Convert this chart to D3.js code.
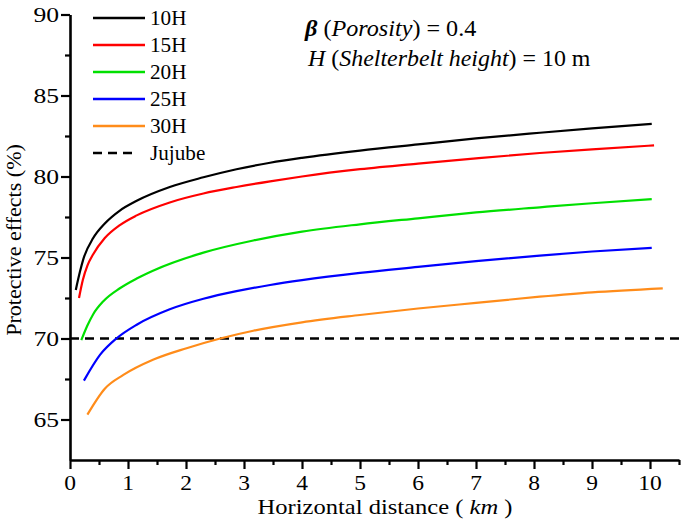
<!DOCTYPE html>
<html>
<head>
<meta charset="utf-8">
<style>
  body { margin: 0; background: #fff; }
  text { font-family: "Liberation Serif", "DejaVu Serif", serif; }
</style>
</head>
<body>
<div id="chart"></div>
<script src="https://cdn.jsdelivr.net/npm/d3@7"></script>
<script>
// values (distance in km, protective effect in %)
const x10H = [0.10, 0.17, 0.23, 0.40, 0.60, 0.86, 1.15, 1.72, 2.30, 2.87, 3.45, 4.0, 5.0, 6.0, 7.0, 8.1, 9.0, 10.03];
const y10H = [73.0, 74.1, 74.9, 76.2, 77.1, 77.9, 78.5, 79.35, 79.95, 80.45, 80.85, 81.15, 81.6, 81.98, 82.35, 82.7, 82.97, 83.25];
const x15H = [0.155, 0.22, 0.30, 0.40, 0.60, 0.86, 1.15, 1.72, 2.30, 2.87, 3.45, 4.0, 5.0, 6.0, 7.0, 8.1, 9.0, 10.07];
const y15H = [72.5, 73.6, 74.5, 75.2, 76.2, 77.0, 77.6, 78.4, 78.95, 79.35, 79.7, 80.0, 80.45, 80.8, 81.12, 81.45, 81.68, 81.92];
const x20H = [0.195, 0.30, 0.40, 0.575, 0.86, 1.15, 1.44, 2.30, 3.16, 4.0, 5.0, 6.0, 7.0, 8.1, 9.0, 10.03];
const y20H = [69.9, 70.8, 71.5, 72.3, 73.1, 73.7, 74.2, 75.3, 76.05, 76.6, 77.05, 77.42, 77.78, 78.1, 78.35, 78.6];
const x25H = [0.24, 0.52, 0.80, 1.15, 1.72, 2.30, 2.87, 3.45, 4.0, 5.0, 6.0, 7.0, 8.1, 9.0, 10.03];
const y25H = [67.4, 69.0, 70.0, 70.85, 71.8, 72.45, 72.92, 73.3, 73.6, 74.05, 74.42, 74.78, 75.12, 75.37, 75.6];
const x30H = [0.30, 0.60, 0.92, 1.44, 2.01, 2.59, 3.16, 4.0, 5.0, 6.0, 7.0, 8.1, 9.0, 10.22];
const y30H = [65.3, 66.9, 67.75, 68.7, 69.4, 70.0, 70.48, 71.0, 71.45, 71.85, 72.2, 72.58, 72.85, 73.1];
const jujube = 70;

const seriesNames = ["10H", "15H", "20H", "25H", "30H"];
const seriesX = [x10H, x15H, x20H, x25H, x30H];
const seriesY = [y10H, y15H, y20H, y25H, y30H];
const seriesColors = ["#000000", "#ff0000", "#00e000", "#0000ff", "#ff8c1a"];

const xMajor = [0, 1, 2, 3, 4, 5, 6, 7, 8, 9, 10];
const xMinor = [0.5, 1.5, 2.5, 3.5, 4.5, 5.5, 6.5, 7.5, 8.5, 9.5, 10.5];
const yMajor = [65, 70, 75, 80, 85, 90];
const yMinor = [67.5, 72.5, 77.5, 82.5, 87.5];

const width = 685, height = 524;
const svg = d3.select("#chart").append("svg")
    .attr("width", width)
    .attr("height", height);

const x = d3.scaleLinear().domain([0, 10.5]).range([70, 679]);
const y = d3.scaleLinear().domain([62.5, 90]).range([460, 14.5]);

// text with a small horizontal stretch, like the original figure
function label(g, px, py, str, size, anchor, sx) {
    return g.append("text")
        .attr("transform", `translate(${px},${py}) scale(${sx},1)`)
        .attr("text-anchor", anchor)
        .style("font-size", size + "px")
        .attr("fill", "#000")
        .text(str);
}

// y axis
const yAxis = svg.append("g").attr("transform", `translate(${x(0)},0)`);
yAxis.call(d3.axisLeft(y).tickValues(yMajor).tickSize(9).tickSizeOuter(0).tickFormat(""));
yAxis.append("g").call(d3.axisLeft(y).tickValues(yMinor).tickSize(5).tickSizeOuter(0).tickFormat(""))
    .select(".domain").remove();
yAxis.selectAll("line").attr("stroke", "#000").attr("stroke-width", 2.2);
yAxis.selectAll(".domain").attr("stroke", "#000").attr("stroke-width", 2.6);
yMajor.forEach(v => label(svg, 59, y(v) + 7, v, 21, "end", 1.22));

// x axis
const xAxis = svg.append("g").attr("transform", `translate(0,${y(62.5)})`);
xAxis.call(d3.axisBottom(x).tickValues(xMajor).tickSize(9).tickSizeOuter(0).tickFormat(""));
xAxis.append("g").call(d3.axisBottom(x).tickValues(xMinor).tickSize(5).tickSizeOuter(0).tickFormat(""))
    .select(".domain").remove();
xAxis.selectAll("line").attr("stroke", "#000").attr("stroke-width", 2.2);
xAxis.selectAll(".domain").attr("stroke", "#000").attr("stroke-width", 2.6);
xMajor.forEach(v => label(svg, x(v), 490, v, 21, "middle", 1.12));

// axis titles
const xt = label(svg, 385, 514, "", 21, "middle", 1.17);
xt.append("tspan").text("Horizontal distance ( ");
xt.append("tspan").style("font-style", "italic").text("km");
xt.append("tspan").text(" )");

svg.append("text")
    .attr("transform", `translate(21,240) rotate(-90) scale(1.05,1)`)
    .attr("text-anchor", "middle")
    .style("font-size", "21px")
    .text("Protective effects (%)");

// jujube reference line
svg.append("line")
    .attr("x1", x(0)).attr("x2", x(10.5))
    .attr("y1", y(jujube)).attr("y2", y(jujube))
    .attr("stroke", "#000").attr("stroke-width", 2.4)
    .attr("stroke-dasharray", "9,6");

// curves
const line = d3.line()
    .x(d => x(d[0]))
    .y(d => y(d[1]))
    .curve(d3.curveMonotoneX);

seriesNames.forEach((name, i) => {
    const pts = seriesX[i].map((v, j) => [v, seriesY[i][j]]);
    svg.append("path")
        .datum(pts)
        .attr("fill", "none")
        .attr("stroke", seriesColors[i])
        .attr("stroke-width", 2.2)
        .attr("d", line);
});

// legend
const legend = svg.append("g");
const legendNames = seriesNames.concat(["Jujube"]);
legendNames.forEach((name, i) => {
    const ly = 18 + i * 27;
    const dashed = i === seriesNames.length;
    legend.append("line")
        .attr("x1", 93).attr("x2", dashed ? 134 : 145)
        .attr("y1", ly).attr("y2", ly)
        .attr("stroke", dashed ? "#000" : seriesColors[i])
        .attr("stroke-width", 2.4)
        .attr("stroke-dasharray", dashed ? "9,6" : null);
    label(legend, 150, ly + 7, name, 20, "start", 1.06);
});

// annotation
const a1 = label(svg, 305, 36, "", 23, "start", 1.05);
a1.append("tspan").style("font-weight", "bold").style("font-style", "italic").text("β");
a1.append("tspan").text(" (");
a1.append("tspan").style("font-style", "italic").text("Porosity");
a1.append("tspan").text(") = 0.4");

const a2 = label(svg, 308, 66, "", 23, "start", 1.04);
a2.append("tspan").style("font-style", "italic").text("H");
a2.append("tspan").text(" (");
a2.append("tspan").style("font-style", "italic").text("Shelterbelt height");
a2.append("tspan").text(") = 10 m");
</script>
</body>
</html>
